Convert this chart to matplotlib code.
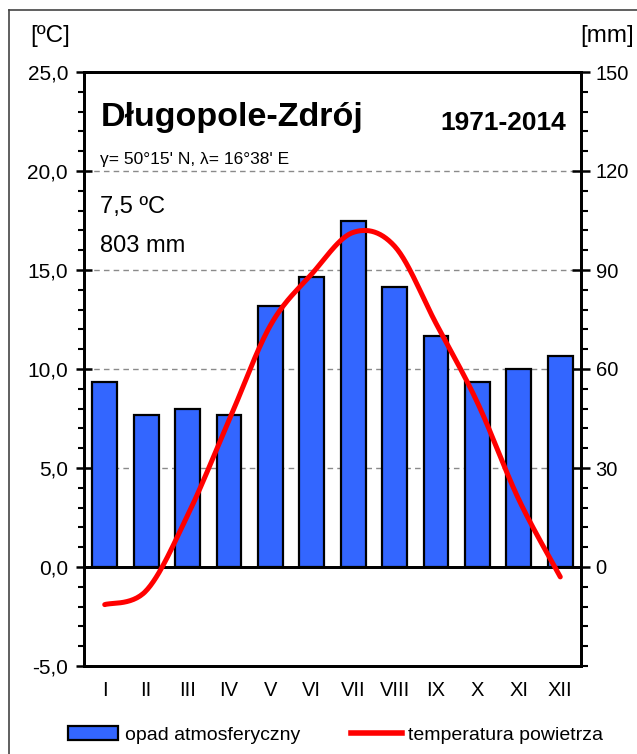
import numpy as np
import matplotlib
matplotlib.use("Agg")
import matplotlib.pyplot as plt
from matplotlib.patches import Patch
from matplotlib.lines import Line2D
from matplotlib.ticker import MultipleLocator, FixedLocator

plt.rcParams['font.family'] = ['Liberation Sans', 'DejaVu Sans']

months = ["I", "II", "III", "IV", "V", "VI", "VII", "VIII", "IX", "X", "XI", "XII"]
precip_mm = [56, 46, 48, 46, 79, 88, 105, 85, 70, 56, 60, 64]
temp_c = [-1.9, -1.2, 2.6, 7.4, 12.2, 14.8, 16.9, 16.2, 12.3, 8.3, 3.4, -0.5]
temp_ticks = [-5, 0, 5, 10, 15, 20, 25]
temp_ticklabels = ["-5,0", "0,0", "5,0", "10,0", "15,0", "20,0", "25,0"]
mm_ticks = [0, 30, 60, 90, 120, 150]
mm_ticklabels = ["0", "30", "60", "90", "120", "150"]

title = "Długopole-Zdrój"
period = "1971-2014"
coords = "γ= 50°15' N, λ= 16°38' E"
mean_temp_txt = "7,5 ºC"
sum_precip_txt = "803 mm"


def catmull_rom(xs, ys, n=30):
    xs = np.asarray(xs, float)
    ys = np.asarray(ys, float)
    px = np.concatenate([[xs[0]], xs, [xs[-1]]])
    py = np.concatenate([[ys[0]], ys, [ys[-1]]])
    outx, outy = [], []
    t = np.linspace(0, 1, n)
    for i in range(1, len(px) - 2):
        for arr, out in ((px, outx), (py, outy)):
            p0, p1, p2, p3 = arr[i - 1], arr[i], arr[i + 1], arr[i + 2]
            seg = 0.5 * ((2 * p1) + (-p0 + p2) * t +
                         (2 * p0 - 5 * p1 + 4 * p2 - p3) * t ** 2 +
                         (-p0 + 3 * p1 - 3 * p2 + p3) * t ** 3)
            out.extend(seg if i == 1 else seg[1:])
    return np.array(outx), np.array(outy)


W, H = 637, 754
fig = plt.figure(figsize=(W / 100, H / 100), dpi=100)
fig.patch.set_facecolor("white")

L, R, T, B = 84, 581, 72, 666
ax = fig.add_axes([L / W, 1 - B / H, (R - L) / W, (B - T) / H])
ax2 = ax.twinx()

x = np.arange(1, 13)

# temperature axis (left)
ax.set_xlim(0.5, 12.5)
ax.set_ylim(-5, 25)
ax.yaxis.set_major_locator(FixedLocator(temp_ticks))
ax.set_yticklabels(temp_ticklabels)
ax.yaxis.set_minor_locator(MultipleLocator(1))
for v in temp_ticks[2:-1]:
    ax.axhline(v, color="#8a8a8a", lw=1.0, ls=(0, (4, 3)), zorder=0)
ax.axhline(0, color="black", lw=2.0, zorder=1)

# precipitation axis (right)
ax2.set_ylim(-30, 150)
ax2.yaxis.set_major_locator(FixedLocator(mm_ticks))
ax2.set_yticklabels(mm_ticklabels)
ax2.yaxis.set_minor_locator(MultipleLocator(6))

ax2.bar(x, precip_mm, width=0.6, color="#3366FF", edgecolor="black",
        linewidth=1.6, zorder=2)
ax2.axhline(0, color="black", lw=2.0, zorder=3)

sx, sy = catmull_rom(x, temp_c)
ax2.plot(sx, sy, color="#FF0000", lw=3.6, solid_capstyle="round",
         transform=ax.transData, zorder=4)

ax.set_xticks(x)
ax.set_xticklabels(months, fontsize=14.5)
ax.tick_params(axis="x", length=0, pad=11)
ax2.tick_params(axis="x", length=0)

for a in (ax, ax2):
    for s in a.spines.values():
        s.set_linewidth(2.0)
        s.set_color("black")
ax.tick_params(axis="y", which="major", direction="inout", length=11, width=1.8,
               labelsize=15, pad=6)
ax.tick_params(axis="y", which="minor", length=4, width=1.5)
ax2.tick_params(axis="y", which="major", direction="inout", length=13, width=1.8,
               labelsize=14.5, pad=4)
ax2.tick_params(axis="y", which="minor", length=5, width=1.5)

# annotations
ax.text(0.033, 0.909, title, transform=ax.transAxes, fontsize=24.5,
        fontweight="bold", ha="left", va="baseline")
ax.text(0.970, 0.902, period, transform=ax.transAxes, fontsize=19,
        fontweight="bold", ha="right", va="baseline")
ax.text(0.033, 0.845, coords, transform=ax.transAxes, fontsize=12.5,
        ha="left", va="baseline")
ax.text(0.033, 0.763, mean_temp_txt, transform=ax.transAxes, fontsize=17,
        ha="left", va="baseline")
ax.text(0.033, 0.697, sum_precip_txt, transform=ax.transAxes, fontsize=17,
        ha="left", va="baseline")

fig.text(30 / W, 1 - 36 / H, "[ºC]", fontsize=17.5, ha="left", va="center")
fig.text(580 / W, 1 - 36 / H, "[mm]", fontsize=17.5, ha="left", va="center")

# outer frame (left and top edges)
fig.add_artist(Line2D([8.5 / W, 8.5 / W], [0, 1 - 10 / H], transform=fig.transFigure,
                      color="#444444", lw=1.2))
fig.add_artist(Line2D([8.5 / W, 1], [1 - 10 / H, 1 - 10 / H], transform=fig.transFigure,
                      color="#444444", lw=1.2))

handles = [Patch(facecolor="#3366FF", edgecolor="black", linewidth=1.6),
           Line2D([0], [0], color="#FF0000", lw=4)]
fig.legend(handles, ["opad atmosferyczny", "temperatura powietrza"],
           loc="center", bbox_to_anchor=(0.527, 1 - 735 / H), ncol=2,
           frameon=False, fontsize=14, handlelength=2.6, handleheight=0.7,
           handletextpad=0.35, columnspacing=2.6)

fig.savefig("out.png", dpi=100, facecolor="white")
